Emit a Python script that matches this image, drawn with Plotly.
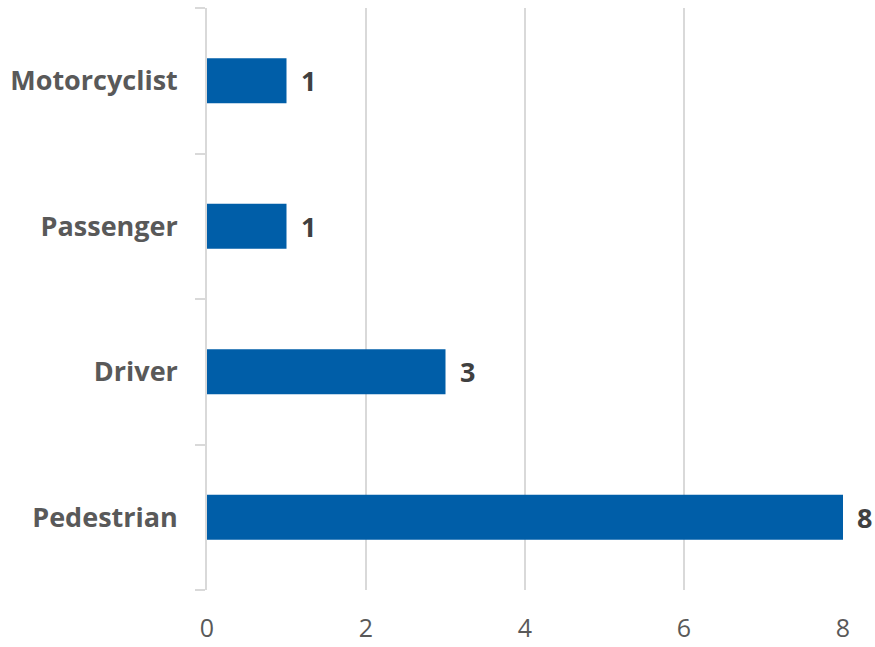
import plotly.graph_objects as go

categories = ["Pedestrian", "Driver", "Passenger", "Motorcyclist"]
values = [8, 3, 1, 1]
x_ticks = [0, 2, 4, 6, 8]

BAR = "#005EA8"
GRID = "#D9D9D9"
FONT = "Open Sans"

fig = go.Figure(go.Bar(
    x=values, y=categories, orientation="h",
    marker=dict(color=BAR, line=dict(width=0)),
    width=0.31,
))

for c, v in zip(categories, values):
    fig.add_annotation(x=v, y=c, text=f"<b>{v}</b>", showarrow=False,
                       xanchor="left", xshift=12,
                       font=dict(family=FONT, size=27, color="#404040"))

fig.update_layout(
    width=875, height=647,
    margin=dict(l=207, r=32, t=8, b=57, autoexpand=False),
    paper_bgcolor="white", plot_bgcolor="white",
    showlegend=False,
    font=dict(family=FONT),
)
fig.update_xaxes(
    range=[0, 8], tickvals=x_ticks, showgrid=True, gridcolor=GRID, gridwidth=1.5,
    zeroline=False, showline=False, automargin=False,
    tickfont=dict(family=FONT, size=25, color="#595959"),
    ticklabelstandoff=21,
)
fig.update_yaxes(
    categoryorder="array", categoryarray=categories, automargin=False,
    showline=True, linecolor=GRID, linewidth=1.5,
    ticks="outside", tickson="boundaries", ticklen=10, tickcolor=GRID, tickwidth=1.5,
    tickfont=dict(family=FONT, size=27, color="#595959", weight="bold"),
    ticklabelstandoff=22,
    showgrid=False,
)
fig.write_html("out.html", config={"displayModeBar": False},
               post_script="document.body.style.margin='0';")
